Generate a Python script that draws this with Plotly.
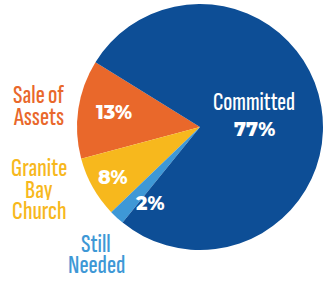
import plotly.graph_objects as go

labels = ["Sale of Assets", "Granite Bay Church", "Still Needed", "Committed"]
label_lines = [["Sale of", "Assets"], ["Granite", "Bay", "Church"], ["Still", "Needed"], ["Committed"]]
values = [13, 8, 2, 77]
colors = ["#E9682B", "#F7B81D", "#3E98D6", "#0D4E96"]

W, H = 332, 281
cx, cy, r = 200, 127, 123

fig = go.Figure(go.Pie(
    labels=labels, values=values, sort=False,
    direction="counterclockwise", rotation=-105,
    marker=dict(colors=colors, line=dict(width=0)),
    textinfo="none", hoverinfo="skip", showlegend=False,
    domain=dict(x=[(cx - r) / W, (cx + r) / W], y=[(H - cy - r) / H, (H - cy + r) / H]),
))

FONT = "Sofia Sans Extra Condensed"
BOLD = "Montserrat"

def ann(x, y, text, color, size, family, weight=400, h=None):
    fig.add_annotation(x=x / W, y=1 - y / H, xref="paper", yref="paper",
                       text=text, showarrow=False, xanchor="center", yanchor="middle",
                       height=h, font=dict(color=color, size=size, family=family, weight=weight))

# outside category labels
outside_pos = [(38, [94, 116]), (39, [167, 189, 210]), (96, [243, 264])]
for i, (x, ys) in enumerate(outside_pos):
    for line, y in zip(label_lines[i], ys):
        ann(x, y, line, colors[i], 27, FONT, weight=500, h=21)

# inside percent labels
pct_pos = [(114, 112), (113, 177), (150, 203), (254, 129)]
for v, (x, y) in zip(values, pct_pos):
    ann(x, y, f"{v}%", "white", 19, BOLD, weight=800)

ann(254, 102, label_lines[3][0], "white", 26, FONT, weight=500, h=22)

fig.update_layout(width=W, height=H, margin=dict(l=0, r=0, t=0, b=0),
                  paper_bgcolor="white", plot_bgcolor="white")
fig.write_html("out.html")
